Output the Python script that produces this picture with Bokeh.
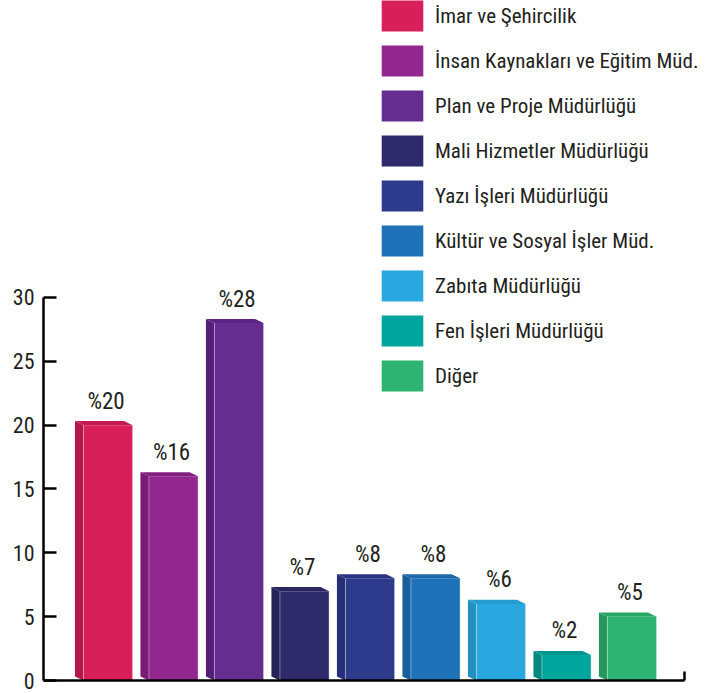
from bokeh.plotting import figure
from bokeh.models import ColumnDataSource, Range1d, FixedTicker, Legend, LegendItem, CustomJSTickFormatter
from bokeh.core.properties import value
from bokeh.embed import file_html
from bokeh.resources import INLINE

# ---- data ----
departments = [
    "İmar ve Şehircilik",
    "İnsan Kaynakları ve Eğitim Müd.",
    "Plan ve Proje Müdürlüğü",
    "Mali Hizmetler Müdürlüğü",
    "Yazı İşleri Müdürlüğü",
    "Kültür ve Sosyal İşler Müd.",
    "Zabıta Müdürlüğü",
    "Fen İşleri Müdürlüğü",
    "Diğer",
]
values = [20, 16, 28, 7, 8, 8, 6, 2, 5]
value_labels = ["%20", "%16", "%28", "%7", "%8", "%8", "%6", "%2", "%5"]
y_ticks = [0, 5, 10, 15, 20, 25, 30]
front_colors = ["#D81E5B", "#92278F", "#652D8F", "#2E2A6B", "#2E3A8C",
                "#1F72B8", "#29A8E0", "#00A69C", "#2DB473"]
side_colors = ["#B3174A", "#781C76", "#531F78", "#25225A", "#252E78",
               "#195E9C", "#2290C2", "#008A82", "#24985F"]
top_colors = ["#C21A51", "#841F82", "#5B2484", "#292662", "#293382",
              "#1B67A8", "#259CD0", "#00978E", "#28A668"]

FONT = "Roboto Condensed"

n = len(values)
xs = list(range(1, n + 1))
W = 0.75      # front face width (data units)
DX = -0.13    # depth offset x
DY = 0.32     # depth offset y
X_END = 9.8   # end of the drawn x axis line

side_xs, side_ys, top_xs, top_ys = [], [], [], []
for x, v in zip(xs, values):
    xl, xr = x - W / 2, x + W / 2
    side_xs.append([xl, xl, xl + DX, xl + DX])
    side_ys.append([0, v, v + DY, DY])
    top_xs.append([xl, xl + DX, xr + DX, xr])
    top_ys.append([v, v + DY, v + DY, v])

src = ColumnDataSource(dict(x=xs, top=values, dept=departments, lab=value_labels,
                            front=front_colors, side=side_colors, topc=top_colors,
                            sxs=side_xs, sys=side_ys, txs=top_xs, tys=top_ys))

p = figure(width=704, height=692, output_backend="svg", toolbar_location=None,
           x_range=Range1d(0.015, 10.107), y_range=Range1d(0, 53.26),
           min_border_left=43, min_border_right=0, min_border_top=0,
           min_border_bottom=12)
p.outline_line_color = None
p.grid.visible = False
p.background_fill_color = "white"
p.border_fill_color = "white"

p.patches("sxs", "sys", source=src, fill_color="side", line_color=None)
p.patches("txs", "tys", source=src, fill_color="topc", line_color=None)
fr = p.vbar(x="x", top="top", width=W, source=src, fill_color="front", line_color=None)
# highlight edges of the front face
p.segment(x0=[x - W / 2 for x in xs], y0=[0] * n, x1=[x - W / 2 for x in xs], y1=values,
          line_color="white", line_alpha=0.35, line_width=1)
p.segment(x0=[x + W / 2 for x in xs], y0=[0] * n, x1=[x + W / 2 for x in xs], y1=values,
          line_color="white", line_alpha=0.35, line_width=1)

p.text(x="x", y="top", text="lab", source=src, text_align="center",
       text_baseline="alphabetic", y_offset=-24, x_offset=-2,
       text_font=value(FONT), text_font_size="23px", text_color="#231F20")

# axes
ya = p.yaxis[0]
ya.ticker = FixedTicker(ticks=y_ticks)
ya.bounds = (0, 30)
ya.major_tick_in = 13
ya.major_tick_out = 0
ya.minor_tick_line_color = None
ya.axis_line_width = 2.5
ya.major_tick_line_width = 2.5
ya.axis_line_color = "black"
ya.major_tick_line_color = "black"
ya.major_label_text_font = FONT
ya.major_label_text_font_size = "22px"
ya.major_label_text_color = "#231F20"
ya.major_label_standoff = 9

xa = p.xaxis[0]
xa.ticker = FixedTicker(ticks=[X_END])
xa.bounds = (0.015, X_END)
xa.formatter = CustomJSTickFormatter(code="return ''")
xa.major_tick_in = 9
xa.major_tick_out = 0
xa.minor_tick_line_color = None
xa.axis_line_width = 2.5
xa.major_tick_line_width = 2.5
xa.axis_line_color = "black"
xa.major_label_standoff = 0

items = [LegendItem(label=d, renderers=[fr], index=i) for i, d in enumerate(departments)]
leg = Legend(items=items, location=(333, 285), glyph_width=52, glyph_height=39,
             spacing=6, padding=0, margin=0, label_standoff=7,
             border_line_color=None, background_fill_alpha=0,
             label_text_font=FONT, label_text_font_size="21px",
             label_text_color="#231F20", label_height=39)
p.add_layout(leg)

open("out.html", "w").write(file_html(p, INLINE))
